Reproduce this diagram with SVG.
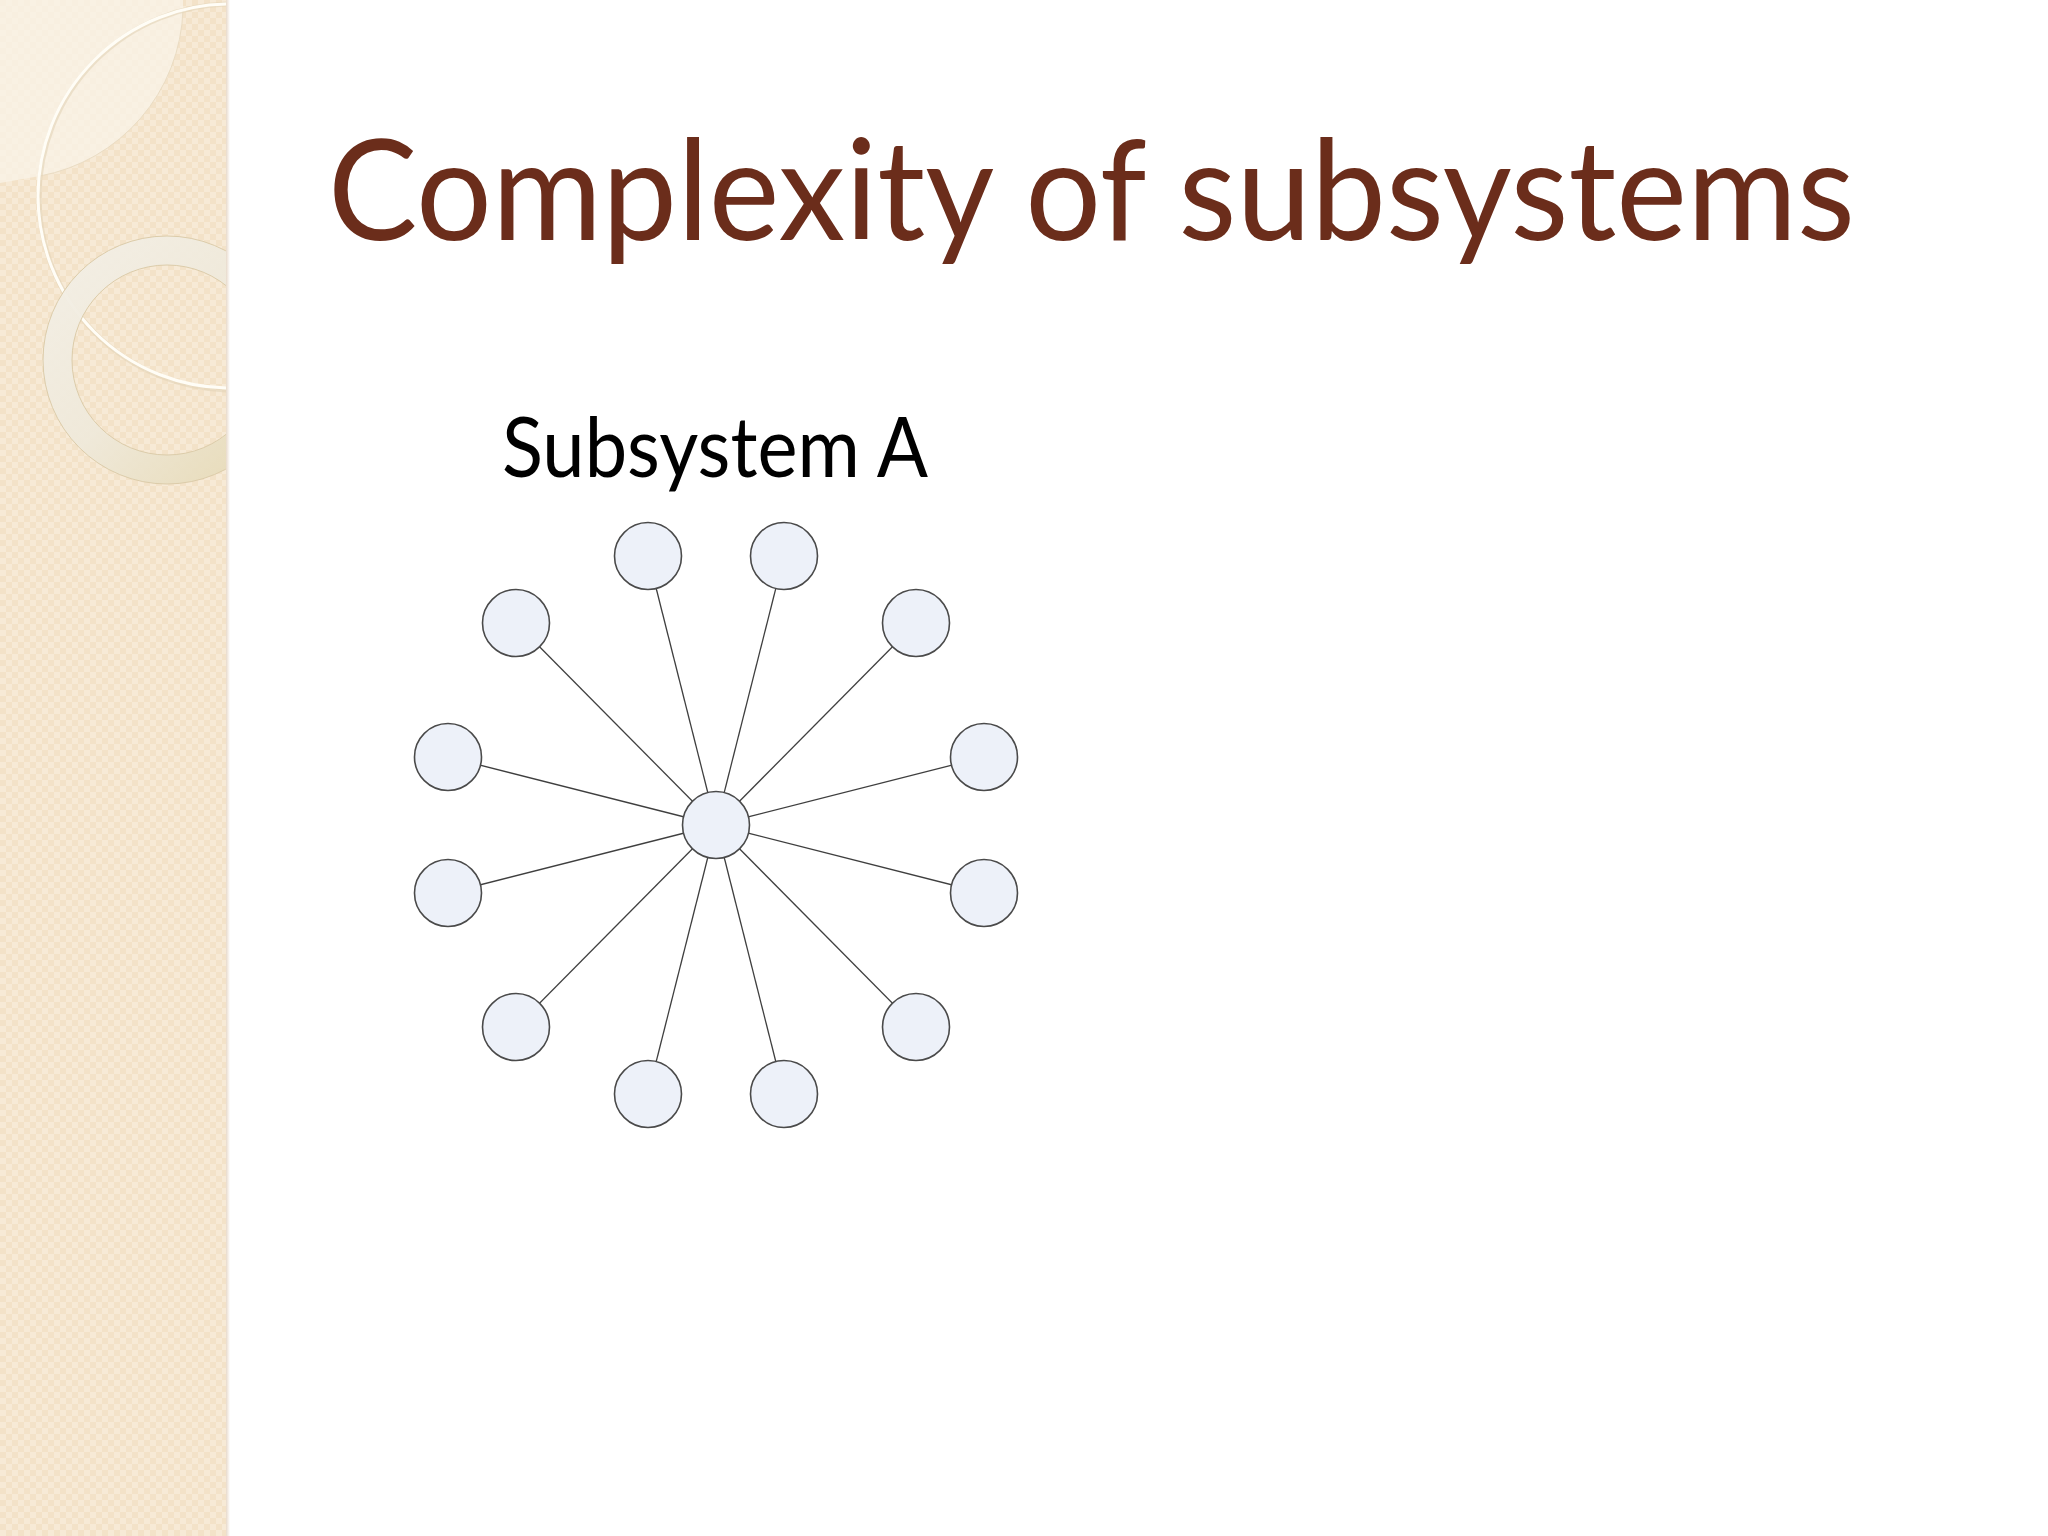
<svg xmlns="http://www.w3.org/2000/svg" width="2048" height="1536" viewBox="0 0 2048 1536">
<defs>
<style>
.title{font-family:"Lato","Open Sans","Liberation Sans",sans-serif;font-size:140px;fill:#6B2D1B;}
.label{font-family:"Lato","Open Sans","Liberation Sans",sans-serif;font-size:84px;fill:#000;}
.node{fill:#EDF1F9;stroke:#4A4A4A;stroke-width:1.6;}
.edge{stroke:#3F3F3F;stroke-width:1.3;fill:none;}
</style>
<pattern id="checker" width="12" height="12" patternUnits="userSpaceOnUse">
<rect width="12" height="12" fill="#F7EAD6"/>
<rect width="6" height="6" fill="#F3E2C8"/>
<rect x="6" y="6" width="6" height="6" fill="#F3E2C8"/>
</pattern>
<linearGradient id="ringGrad" x1="0" y1="0" x2="1" y2="1">
<stop offset="0" stop-color="#F3EFE6"/>
<stop offset="0.5" stop-color="#EFE9DA"/>
<stop offset="1" stop-color="#E6D9B4"/>
</linearGradient>
<linearGradient id="edgeShadow" x1="0" y1="0" x2="1" y2="0">
<stop offset="0" stop-color="#E8DACB"/>
<stop offset="1" stop-color="#FFFFFF"/>
</linearGradient>
<clipPath id="sideClip"><rect x="0" y="0" width="226" height="1536"/></clipPath>
</defs>
<rect width="2048" height="1536" fill="#FFFFFF"/>
<g id="sidebar">
<rect x="0" y="0" width="226" height="1536" fill="url(#checker)"/>
<rect x="226" y="0" width="4" height="1536" fill="url(#edgeShadow)"/>
<g clip-path="url(#sideClip)">
<path d="M0 0 H183 V10 A175 175 0 0 1 40 176 L0 183 Z" fill="#F9F2E6" opacity="0.8"/>
<path d="M183 10 A175 175 0 0 1 40 176" fill="none" stroke="#EADCC3" stroke-width="1"/>
<circle cx="232" cy="197" r="193" fill="none" stroke="#E2D3B8" stroke-width="5" opacity="0.6"/>
<circle cx="230" cy="196" r="192" fill="none" stroke="#FFFDF6" stroke-width="3"/>
<circle cx="167" cy="360" r="109.5" fill="none" stroke="url(#ringGrad)" stroke-width="29" opacity="0.95"/>
<circle cx="167" cy="360" r="124" fill="none" stroke="#DCCCAA" stroke-width="1"/>
<circle cx="167" cy="360" r="95" fill="none" stroke="#DCCCAA" stroke-width="1"/>
</g>
</g>
<g id="title">
<text class="title" x="328" y="240" textLength="1527" lengthAdjust="spacingAndGlyphs">Complexity of subsystems</text>
</g>
<g id="label-subsystem-a">
<text class="label" x="502" y="477" textLength="426" lengthAdjust="spacingAndGlyphs">Subsystem A</text>
</g>
<g id="connectors">
<line class="edge" x1="716" y1="825" x2="648" y2="556"/>
<line class="edge" x1="716" y1="825" x2="784" y2="556"/>
<line class="edge" x1="716" y1="825" x2="516" y2="623"/>
<line class="edge" x1="716" y1="825" x2="916" y2="623"/>
<line class="edge" x1="716" y1="825" x2="448" y2="757"/>
<line class="edge" x1="716" y1="825" x2="984" y2="757"/>
<line class="edge" x1="716" y1="825" x2="448" y2="893"/>
<line class="edge" x1="716" y1="825" x2="984" y2="893"/>
<line class="edge" x1="716" y1="825" x2="516" y2="1027"/>
<line class="edge" x1="716" y1="825" x2="916" y2="1027"/>
<line class="edge" x1="716" y1="825" x2="648" y2="1094"/>
<line class="edge" x1="716" y1="825" x2="784" y2="1094"/>
</g>
<g id="node-center"><circle class="node" cx="716" cy="825" r="33.5"/></g>
<g id="node-1"><circle class="node" cx="648" cy="556" r="33.5"/></g>
<g id="node-2"><circle class="node" cx="784" cy="556" r="33.5"/></g>
<g id="node-3"><circle class="node" cx="516" cy="623" r="33.5"/></g>
<g id="node-4"><circle class="node" cx="916" cy="623" r="33.5"/></g>
<g id="node-5"><circle class="node" cx="448" cy="757" r="33.5"/></g>
<g id="node-6"><circle class="node" cx="984" cy="757" r="33.5"/></g>
<g id="node-7"><circle class="node" cx="448" cy="893" r="33.5"/></g>
<g id="node-8"><circle class="node" cx="984" cy="893" r="33.5"/></g>
<g id="node-9"><circle class="node" cx="516" cy="1027" r="33.5"/></g>
<g id="node-10"><circle class="node" cx="916" cy="1027" r="33.5"/></g>
<g id="node-11"><circle class="node" cx="648" cy="1094" r="33.5"/></g>
<g id="node-12"><circle class="node" cx="784" cy="1094" r="33.5"/></g>
</svg>
